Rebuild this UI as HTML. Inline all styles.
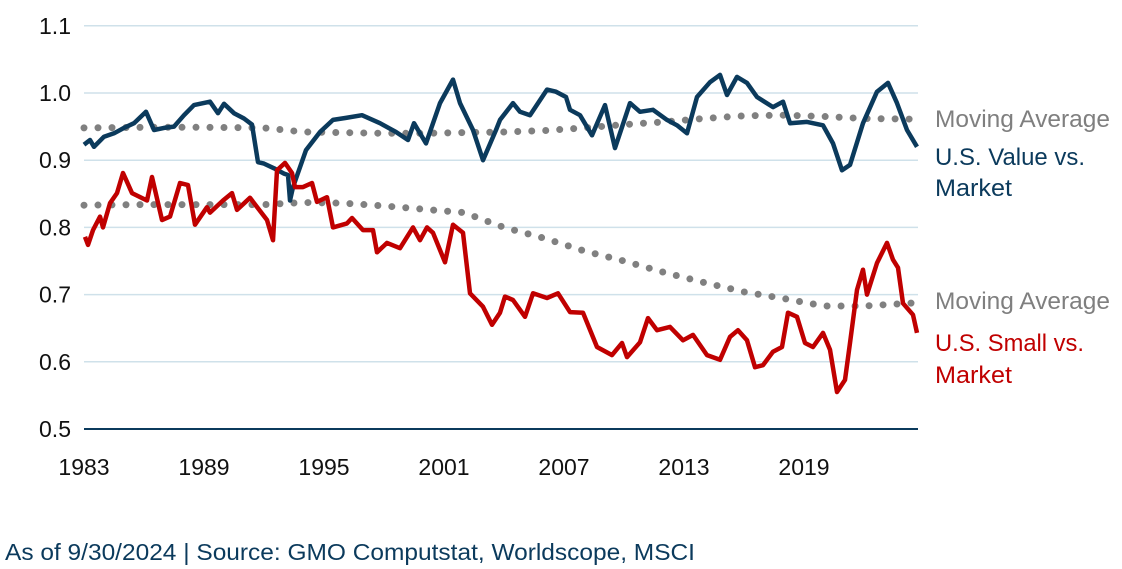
<!DOCTYPE html>
<html><head><meta charset="utf-8"><style>
html,body{margin:0;padding:0;background:#fff;}
svg{display:block;font-family:"Liberation Sans",sans-serif;}
</style></head><body>
<svg id="chart" width="1122" height="569" viewBox="0 0 1122 569" xmlns="http://www.w3.org/2000/svg">
<g id="grid"></g>
<g id="yticks"></g>
<g id="xticks"></g>
<g id="series"></g>
<line x1="84" y1="429" x2="918" y2="429" stroke="#0b3a5c" stroke-width="2"/>
<text x="935" y="127" font-size="24" fill="#7f7f7f" textLength="175" lengthAdjust="spacingAndGlyphs">Moving Average</text>
<text x="935" y="165" font-size="24" fill="#0b3a5c" textLength="150" lengthAdjust="spacingAndGlyphs">U.S. Value vs.</text>
<text x="935" y="196" font-size="24" fill="#0b3a5c" textLength="77" lengthAdjust="spacingAndGlyphs">Market</text>
<text x="935" y="309" font-size="24" fill="#7f7f7f" textLength="175" lengthAdjust="spacingAndGlyphs">Moving Average</text>
<text x="935" y="351" font-size="24" fill="#c00000" textLength="149" lengthAdjust="spacingAndGlyphs">U.S. Small vs.</text>
<text x="935" y="383" font-size="24" fill="#c00000" textLength="77" lengthAdjust="spacingAndGlyphs">Market</text>
<text x="5" y="560" font-size="23" fill="#0b3a5c" textLength="690" lengthAdjust="spacingAndGlyphs">As of 9/30/2024 | Source: GMO Computstat, Worldscope, MSCI</text>
</svg>
<script>
const yTicks=[0.5,0.6,0.7,0.8,0.9,1.0,1.1];
const yTickLabels=["0.5","0.6","0.7","0.8","0.9","1.0","1.1"];
const xTicks=[1983,1989,1995,2001,2007,2013,2019];
const valueYears=[1983.0,1983.3,1983.5,1984,1984.5,1985,1985.5,1986.1,1986.5,1987,1987.5,1988,1988.5,1989.3,1989.7,1990,1990.5,1991,1991.4,1991.7,1992,1992.5,1993.0,1993.2,1993.3,1993.45,1994.1,1994.8,1995.45,1996.1,1996.9,1997.8,1998.6,1999.2,1999.5,2000.1,2000.8,2001.45,2001.8,2002.45,2002.95,2003.6,2003.8,2004.45,2004.8,2005.3,2006.15,2006.6,2007.1,2007.3,2007.8,2008.4,2009.05,2009.55,2010.3,2010.8,2011.45,2012.15,2012.65,2013.15,2013.65,2014.3,2014.8,2015.15,2015.65,2016.15,2016.65,2017.45,2017.95,2018.3,2019.15,2019.95,2020.45,2020.9,2021.3,2021.95,2022.65,2023.2,2023.65,2024.15,2024.65];
const valueVals=[0.923,0.93,0.92,0.935,0.94,0.948,0.955,0.972,0.945,0.948,0.95,0.967,0.982,0.987,0.97,0.984,0.97,0.962,0.953,0.897,0.895,0.888,0.88,0.878,0.84,0.86,0.915,0.942,0.96,0.963,0.967,0.955,0.942,0.93,0.955,0.925,0.985,1.02,0.985,0.945,0.9,0.945,0.96,0.985,0.972,0.967,1.005,1.002,0.994,0.975,0.967,0.937,0.982,0.918,0.985,0.972,0.975,0.96,0.952,0.94,0.994,1.016,1.027,0.997,1.024,1.015,0.994,0.979,0.987,0.955,0.957,0.952,0.925,0.885,0.893,0.955,1.002,1.015,0.985,0.945,0.92];
const smallYears=[1983.05,1983.2,1983.45,1983.8,1983.95,1984.3,1984.65,1984.95,1985.4,1986.15,1986.4,1986.9,1987.3,1987.8,1988.2,1988.55,1989.15,1989.3,1989.95,1990.4,1990.65,1991.3,1992.15,1992.45,1992.65,1993.05,1993.4,1993.55,1993.95,1994.4,1994.65,1995.15,1995.45,1996.15,1996.4,1996.95,1997.45,1997.65,1998.15,1998.8,1999.45,1999.8,2000.15,2000.45,2001.05,2001.45,2001.95,2002.3,2002.95,2003.4,2003.8,2004.05,2004.45,2005.05,2005.45,2006.15,2006.7,2007.3,2007.95,2008.65,2009.4,2009.9,2010.15,2010.8,2011.2,2011.65,2012.3,2012.95,2013.45,2014.15,2014.8,2015.3,2015.7,2016.15,2016.55,2016.95,2017.45,2017.9,2018.2,2018.65,2019.05,2019.45,2019.95,2020.3,2020.65,2021.05,2021.3,2021.65,2021.95,2022.15,2022.65,2023.15,2023.45,2023.7,2023.95,2024.45,2024.65];
const smallVals=[0.786,0.774,0.796,0.816,0.8,0.836,0.851,0.881,0.851,0.84,0.875,0.811,0.816,0.866,0.863,0.804,0.83,0.822,0.84,0.851,0.826,0.844,0.811,0.781,0.885,0.896,0.881,0.86,0.86,0.866,0.838,0.845,0.8,0.806,0.814,0.796,0.796,0.763,0.777,0.769,0.8,0.781,0.8,0.792,0.748,0.804,0.792,0.702,0.682,0.655,0.673,0.697,0.692,0.667,0.702,0.695,0.702,0.674,0.673,0.622,0.61,0.628,0.607,0.629,0.665,0.647,0.652,0.632,0.64,0.61,0.603,0.637,0.647,0.632,0.592,0.595,0.615,0.622,0.673,0.667,0.628,0.622,0.643,0.618,0.555,0.573,0.628,0.707,0.737,0.7,0.747,0.777,0.752,0.74,0.687,0.67,0.643];
const maYears=[1983,1986,1989,1992,1994,1996,1998,2000,2002,2004,2006,2008,2010,2012,2014,2016,2018,2020,2022,2024.7];
const valueMA=[0.948,0.949,0.949,0.948,0.942,0.941,0.94,0.94,0.941,0.942,0.944,0.948,0.953,0.957,0.962,0.966,0.967,0.965,0.962,0.961];
const smallMA=[0.833,0.834,0.834,0.834,0.837,0.836,0.832,0.827,0.822,0.8,0.784,0.765,0.75,0.733,0.718,0.704,0.694,0.683,0.683,0.688];

const X=v=>84+(v-1983)*20;
const Y=v=>429-(v-0.5)*672;
const NS="http://www.w3.org/2000/svg";
function mk(tag,attrs,parent,text){const e=document.createElementNS(NS,tag);for(const k in attrs)e.setAttribute(k,attrs[k]);if(text!==undefined)e.textContent=text;parent.appendChild(e);return e;}
const grid=document.getElementById('grid'),yt=document.getElementById('yticks'),xt=document.getElementById('xticks'),ser=document.getElementById('series');
yTicks.forEach((t,i)=>{
  if(t>0.5){const l=mk('line',{x1:84,x2:918,y1:Y(t),y2:Y(t),stroke:'#cfe1ea','stroke-width':1.5},grid);
  
  }
  const tx=mk('text',{x:71,y:Y(t)+8,'text-anchor':'end','font-size':23,fill:'#111'},yt,yTickLabels[i]);
  
  
});
xTicks.forEach(t=>{
  const tx=mk('text',{x:X(t),y:475,'text-anchor':'middle','font-size':23,fill:'#111'},xt,String(t));
  
  
});
function pts(xs,ys){return xs.map((x,i)=>X(x).toFixed(1)+','+Y(ys[i]).toFixed(1)).join(' ');}
const ma1=mk('polyline',{points:pts(maYears,valueMA),fill:'none',stroke:'#808080','stroke-width':7,'stroke-linecap':'round','stroke-dasharray':'0 14'},ser);


const ma2=mk('polyline',{points:pts(maYears,smallMA),fill:'none',stroke:'#808080','stroke-width':7,'stroke-linecap':'round','stroke-dasharray':'0 14'},ser);


const l1=mk('polyline',{points:pts(valueYears,valueVals),fill:'none',stroke:'#0b3a5c','stroke-width':4.5,'stroke-linejoin':'round'},ser);


const l2=mk('polyline',{points:pts(smallYears,smallVals),fill:'none',stroke:'#c00000','stroke-width':4.5,'stroke-linejoin':'round'},ser);


</script>
</body></html>
